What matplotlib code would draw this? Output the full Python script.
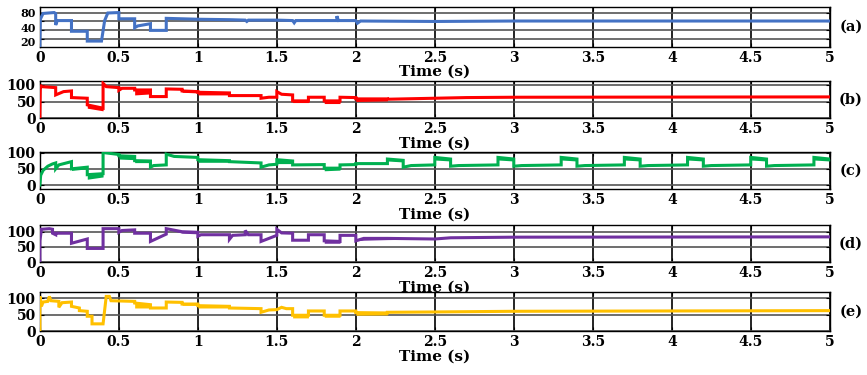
import numpy as np
import matplotlib
matplotlib.use("Agg")
import matplotlib.pyplot as plt
import matplotlib.transforms as mtransforms

# (time, value) breakpoints
pts_a = [(0, 3), (0.003, 65), (0.02, 78), (0.09, 80), (0.1, 78), (0.1, 52), (0.11, 62),
         (0.2, 62), (0.2, 38), (0.3, 38), (0.3, 16), (0.39, 16), (0.41, 62), (0.43, 79),
         (0.5, 80), (0.5, 66), (0.6, 66), (0.6, 46), (0.62, 50), (0.7, 55), (0.7, 40),
         (0.8, 40), (0.8, 67), (0.9, 66), (1.0, 65), (1.2, 64), (1.3, 63), (1.31, 60),
         (1.32, 63), (1.5, 63), (1.6, 62), (1.61, 57), (1.62, 62), (1.88, 62), (1.88, 72),
         (1.89, 62), (2.0, 62), (2.01, 56), (2.03, 61), (2.5, 60), (3.0, 61), (4.0, 61),
         (5.0, 61)]

# (time, value, band depth below value)
pts_b = [(0, 0, 0), (0.003, 100, 0), (0.01, 95, 0), (0.1, 92, 0), (0.1, 70, 0), (0.15, 80, 0),
         (0.2, 82, 0), (0.2, 62, 0), (0.3, 60, 0), (0.3, 40, 10), (0.4, 30, 8), (0.4, 105, 0),
         (0.42, 95, 0), (0.5, 92, 0), (0.5, 84, 0), (0.52, 90, 0), (0.6, 90, 0), (0.6, 85, 15),
         (0.7, 85, 12), (0.7, 65, 0), (0.8, 65, 0), (0.8, 88, 0), (0.9, 87, 0), (0.9, 82, 4),
         (1.0, 80, 4), (1.0, 78, 8), (1.2, 76, 6), (1.2, 68, 0), (1.4, 68, 0), (1.4, 60, 0),
         (1.45, 63, 0), (1.5, 63, 0), (1.5, 80, 0), (1.53, 72, 0), (1.6, 70, 0), (1.6, 52, 5),
         (1.7, 52, 5), (1.7, 63, 0), (1.8, 63, 0), (1.8, 52, 8), (1.9, 52, 8), (1.9, 63, 0),
         (2.0, 62, 0), (2.0, 58, 8), (2.2, 58, 6), (2.2, 57, 0), (2.5, 60, 0), (2.7, 62, 0),
         (3.0, 63, 0), (5.0, 64, 0)]

pts_c = [(0, 0, 0), (0.005, 30, 0), (0.02, 45, 0), (0.05, 58, 0), (0.08, 65, 0), (0.1, 68, 0),
         (0.1, 50, 0), (0.12, 62, 0), (0.2, 72, 0), (0.2, 50, 5), (0.3, 55, 5), (0.3, 32, 14),
         (0.4, 35, 10), (0.4, 100, 0), (0.45, 97, 0), (0.5, 94, 0), (0.5, 90, 10), (0.6, 88, 10),
         (0.6, 75, 6), (0.7, 74, 5), (0.7, 55, 0), (0.72, 60, 0), (0.8, 62, 0), (0.8, 95, 0),
         (0.85, 88, 0), (1.0, 85, 0), (1.0, 78, 8), (1.2, 75, 5), (1.2, 72, 0), (1.4, 68, 0),
         (1.4, 55, 0), (1.45, 62, 0), (1.5, 64, 0), (1.5, 78, 12), (1.6, 74, 8), (1.6, 62, 0),
         (1.8, 63, 0), (1.8, 52, 8), (1.9, 52, 6), (1.9, 62, 0), (2.0, 63, 0), (2.0, 66, 0),
         (2.2, 66, 0), (2.2, 80, 6), (2.3, 76, 5), (2.3, 55, 0), (2.35, 60, 0), (2.5, 62, 0),
         (2.5, 85, 8), (2.6, 80, 6), (2.6, 58, 0), (2.65, 60, 0), (2.9, 62, 0), (2.9, 85, 8),
         (3.0, 80, 6), (3.0, 58, 0), (3.05, 60, 0), (3.3, 62, 0), (3.3, 85, 8), (3.4, 80, 6),
         (3.4, 58, 0), (3.45, 60, 0), (3.7, 62, 0), (3.7, 85, 8), (3.8, 80, 6), (3.8, 58, 0),
         (3.85, 60, 0), (4.1, 62, 0), (4.1, 85, 8), (4.2, 80, 6), (4.2, 58, 0), (4.25, 60, 0),
         (4.5, 62, 0), (4.5, 85, 8), (4.6, 80, 6), (4.6, 58, 0), (4.65, 60, 0), (4.9, 62, 0),
         (4.9, 85, 8), (5.0, 80, 6)]

pts_d = [(0, 0, 0), (0, 70, 0), (0.01, 108, 0), (0.06, 110, 0), (0.08, 108, 0), (0.08, 95, 0),
         (0.1, 90, 0), (0.1, 95, 0), (0.2, 95, 0), (0.2, 62, 0), (0.3, 76, 0), (0.3, 45, 0),
         (0.4, 45, 0), (0.4, 110, 0), (0.5, 110, 0), (0.5, 98, 0), (0.52, 104, 0), (0.6, 106, 0),
         (0.6, 95, 0), (0.7, 95, 0), (0.7, 68, 0), (0.8, 92, 0), (0.8, 110, 0), (0.9, 100, 5),
         (1.0, 98, 5), (1.0, 85, 0), (1.02, 90, 0), (1.2, 90, 0), (1.2, 75, 0), (1.22, 88, 0),
         (1.3, 90, 0), (1.3, 104, 0), (1.32, 90, 0), (1.4, 90, 0), (1.4, 68, 0), (1.5, 88, 0),
         (1.5, 108, 0), (1.53, 96, 0), (1.6, 95, 0), (1.6, 72, 0), (1.7, 72, 0), (1.7, 90, 0),
         (1.8, 90, 0), (1.8, 70, 8), (1.9, 68, 6), (1.9, 88, 0), (2.0, 88, 0), (2.0, 70, 0),
         (2.05, 78, 6), (2.2, 78, 4), (2.5, 76, 0), (2.6, 80, 0), (3.0, 82, 0), (5.0, 83, 0)]

pts_e = [(0, 0, 0), (0, 105, 0), (0.01, 75, 0), (0.02, 88, 0), (0.05, 90, 0), (0.06, 105, 0),
         (0.07, 92, 0), (0.12, 90, 0), (0.12, 72, 0), (0.14, 86, 0), (0.2, 88, 0), (0.2, 75, 0),
         (0.25, 70, 0), (0.25, 62, 0), (0.3, 60, 0), (0.3, 45, 0), (0.33, 45, 0), (0.33, 22, 0),
         (0.4, 22, 0), (0.42, 105, 0), (0.44, 105, 0), (0.45, 92, 0), (0.6, 90, 0), (0.6, 85, 15),
         (0.7, 80, 10), (0.7, 70, 0), (0.8, 70, 0), (0.8, 88, 0), (0.9, 87, 0), (0.9, 82, 4),
         (1.0, 82, 4), (1.0, 77, 7), (1.2, 75, 5), (1.2, 70, 0), (1.4, 68, 0), (1.4, 57, 0),
         (1.45, 64, 0), (1.5, 65, 0), (1.53, 72, 0), (1.56, 68, 0), (1.6, 68, 0), (1.6, 48, 8),
         (1.7, 48, 8), (1.7, 61, 0), (1.8, 61, 0), (1.8, 48, 6), (1.9, 48, 6), (1.9, 61, 0),
         (2.0, 61, 0), (2.0, 56, 8), (2.2, 55, 6), (2.2, 57, 0), (2.5, 58, 0), (3.0, 60, 0),
         (5.0, 62, 0)]

panel_tags = ["(a)", "(b)", "(c)", "(d)", "(e)"]
colors = ["#4472C4", "#FF0000", "#00B050", "#7030A0", "#FFC000"]
x_ticks = [0, 0.5, 1, 1.5, 2, 2.5, 3, 3.5, 4, 4.5, 5]
x_labels = ["0", "0.5", "1", "1.5", "2", "2.5", "3", "3.5", "4", "4.5", "5"]
y_ticks = [[20, 40, 60, 80], [0, 50, 100], [0, 50, 100], [0, 50, 100], [0, 50, 100]]
y_labels = [["20", "40", "", "80"], ["0", "50", "100"], ["0", "50", "100"],
            ["0", "50", "100"], ["0", "50", "100"]]
y_lims = [(3, 93), (0, 112), (-12, 102), (0, 122), (0, 118)]
y_fsize = [8, 10, 10, 10, 10]

# axes boxes in figure fractions: (bottom, height)
boxes = [(0.875, 0.107), (0.685, 0.099), (0.496, 0.099), (0.301, 0.099), (0.117, 0.104)]

font = {"family": "DejaVu Serif", "weight": "bold"}

fig = plt.figure(figsize=(8.67, 3.75), dpi=100)

series = [pts_a, pts_b, pts_c, pts_d, pts_e]
for i, pts in enumerate(series):
    bottom, height = boxes[i]
    ax = fig.add_axes([0.046, bottom, 0.911, height])
    arr = np.array(pts, dtype=float)
    t, v = arr[:, 0], arr[:, 1]
    if arr.shape[1] > 2:
        ax.fill_between(t, v - arr[:, 2], v, color=colors[i], lw=0, zorder=3)
    ax.plot(t, v, color=colors[i], lw=2.2, zorder=4, solid_joinstyle="miter")

    ax.set_xlim(0, 5)
    ax.set_ylim(*y_lims[i])
    ax.set_xticks(x_ticks)
    ax.set_xticklabels(x_labels, fontdict=font, fontsize=10)
    ax.set_yticks(y_ticks[i])
    ax.set_yticklabels(y_labels[i], fontdict=font, fontsize=y_fsize[i])
    ax.tick_params(direction="in", length=3, width=0.8, pad=3, top=True, right=True)
    ax.xaxis.grid(True, color="black", lw=1.2)
    ax.yaxis.grid(True, color="#555555", lw=1.2)
    ax.set_axisbelow(True)
    for s in ax.spines.values():
        s.set_color("black")
        s.set_linewidth(1.0)
    ax.set_xlabel("Time (s)", fontdict=font, fontsize=11, labelpad=0)
    ax.text(1.027, 0.5, panel_tags[i], transform=ax.transAxes, ha="center", va="center",
            fontdict=font, fontsize=10.5)

    if i == 0:
        # the 20 and 40 labels sit very close: nudge them apart a little
        labs = ax.get_yticklabels()
        down = mtransforms.ScaledTranslation(0, -1.8 / 72, fig.dpi_scale_trans)
        up = mtransforms.ScaledTranslation(0, 1.8 / 72, fig.dpi_scale_trans)
        labs[0].set_transform(labs[0].get_transform() + down)
        labs[1].set_transform(labs[1].get_transform() + up)

fig.savefig("out.png", dpi=100)
